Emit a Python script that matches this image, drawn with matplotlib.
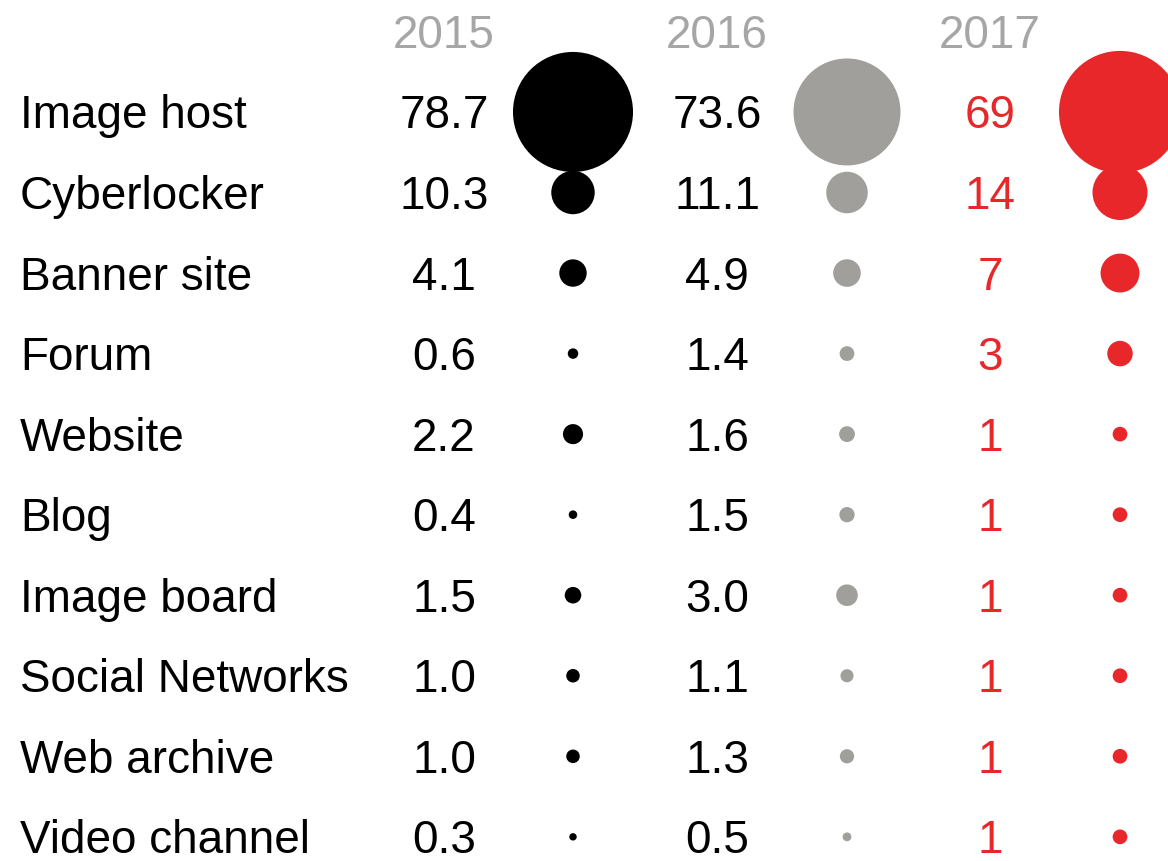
import matplotlib
matplotlib.use("Agg")
import matplotlib.pyplot as plt

categories = ["Image host", "Cyberlocker", "Banner site", "Forum", "Website",
              "Blog", "Image board", "Social Networks", "Web archive", "Video channel"]
years = ["2015", "2016", "2017"]
v2015 = [78.7, 10.3, 4.1, 0.6, 2.2, 0.4, 1.5, 1.0, 1.0, 0.3]
v2016 = [73.6, 11.1, 4.9, 1.4, 1.6, 1.5, 3.0, 1.1, 1.3, 0.5]
v2017 = [69, 14, 7, 3, 1, 1, 1, 1, 1, 1]
labels2015 = ["78.7", "10.3", "4.1", "0.6", "2.2", "0.4", "1.5", "1.0", "1.0", "0.3"]
labels2016 = ["73.6", "11.1", "4.9", "1.4", "1.6", "1.5", "3.0", "1.1", "1.3", "0.5"]
labels2017 = ["69", "14", "7", "3", "1", "1", "1", "1", "1", "1"]

plt.rcParams['font.family'] = ['Liberation Sans', 'DejaVu Sans']

fig = plt.figure(figsize=(11.68, 8.61), dpi=100)
ax = fig.add_axes([0, 0, 1, 1])
ax.set_xlim(0, 1168)
ax.set_ylim(9.30, -1.39)
ax.axis("off")

fs = 33
off = 0.205  # baseline shift so caps sit centred on the row

# column layout: (number x, circle x, values, labels, text colour, circle colour, size factor)
cols = [
    (444, 573, v2015, labels2015, "black", "black", 94.9),
    (717, 847, v2016, labels2016, "black", "#a09f9b", 80.6),
    (990, 1120, v2017, labels2017, "#e8272a", "#e8272a", 112.0),
]

rows = list(range(len(categories)))

for i, name in enumerate(categories):
    ax.text(20, i + off, name, fontsize=fs, ha="left", va="baseline", color="black")

for yr, (nx, cx, vals, labs, tc, cc, k) in zip(years, cols):
    ax.text(nx, -1 + off, yr, fontsize=fs, ha="center", va="baseline", color="#a6a6a6")
    for i, lab in enumerate(labs):
        ax.text(nx, i + off, lab, fontsize=fs, ha="center", va="baseline", color=tc)
    ax.scatter([cx] * len(vals), rows, s=[v * k for v in vals], color=cc,
               linewidths=0, clip_on=False, zorder=3)

fig.savefig("out.png", dpi=100)
